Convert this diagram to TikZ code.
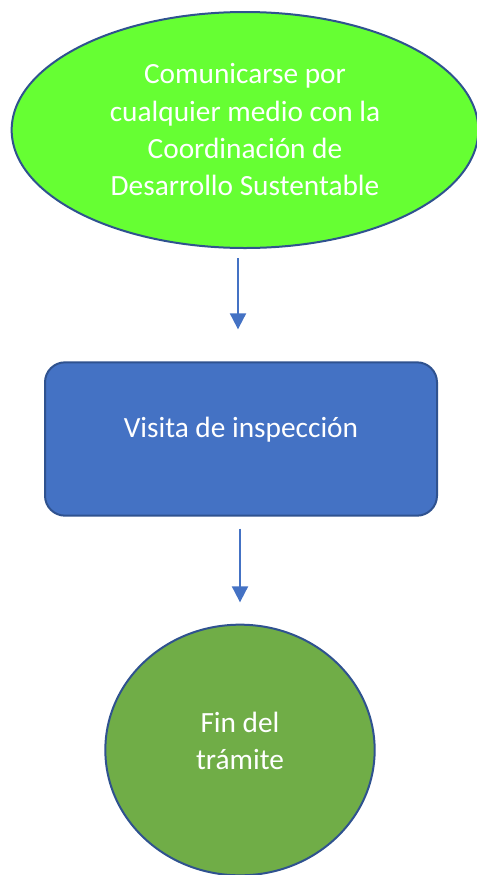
\documentclass[tikz,border=0pt]{standalone}
\usepackage{fontspec}
\setmainfont{Carlito}
\usetikzlibrary{arrows.meta,shapes.geometric,positioning}
\definecolor{lime}{HTML}{66FF33}
\definecolor{steel}{HTML}{4472C4}
\definecolor{edge}{HTML}{2F528F}
\definecolor{leaf}{HTML}{70AD47}
\tikzset{
    start/.style={
        ellipse,
        line width=1.5pt,
        draw=edge,
        fill=lime,
        text=white,
        align=center,
        inner sep=0pt,
        font=\fontsize{22}{28}\selectfont,
    },
    task/.style={
        rectangle,
        rounded corners=15pt,
        line width=1.5pt,
        draw=edge,
        fill=steel,
        text=white,
        align=center,
        font=\fontsize{22}{28}\selectfont,
    },
    stop/.style={
        ellipse,
        line width=1.5pt,
        draw=edge,
        fill=leaf,
        text=white,
        align=center,
        inner sep=0pt,
        font=\fontsize{22}{28}\selectfont,
    },
}

\begin{document}
\begin{tikzpicture}[x=0.75pt,y=-0.75pt,>={Triangle[length=12pt,width=12pt]}]
    \useasboundingbox (0,0) rectangle (477,875);
    \node [start, minimum width=350pt, minimum height=177pt] (contact) at (245,130) {Comunicarse por\\cualquier medio con la\\Coordinación de\\Desarrollo Sustentable};
    \node [task, minimum width=294pt, minimum height=115pt] (visit) at (241,439) {};
    \node [white, font=\fontsize{22}{28}\selectfont] (visit-text) at (241,430) {Visita de inspección};
    \node [stop, minimum width=202pt, minimum height=188pt] (end) at (240,750) {};
    \node [white, align=center, font=\fontsize{22}{28}\selectfont] (end-text) at (240,741) {Fin del\\trámite};
    \draw [->, steel, line width=1.5pt, shorten <=7pt, shorten >=24pt] (contact.south -| 238,0) -- (visit.north -| 238,0);
    \draw [->, steel, line width=1.5pt, shorten <=9pt, shorten >=16pt] (visit.south -| 240,0) -- (end.north -| 240,0);
\end{tikzpicture}
\end{document}
